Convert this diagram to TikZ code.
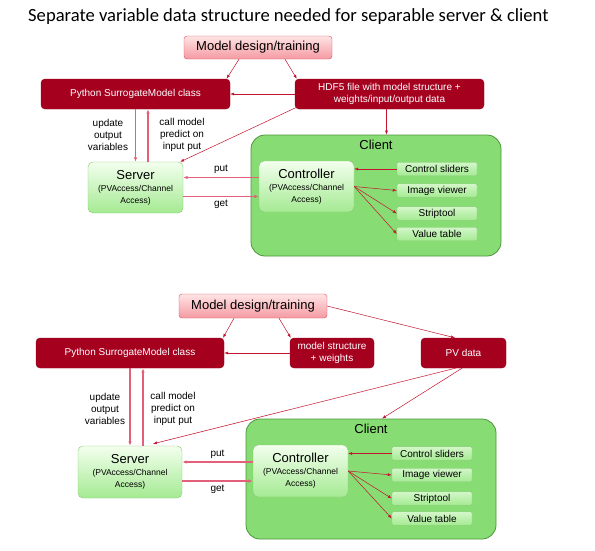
\documentclass[tikz,border=0pt]{standalone}
\usepackage{fontspec}
\setmainfont{Liberation Sans}
\newfontfamily\titlefont{Carlito}
\usepackage{tikz}
\usetikzlibrary{arrows.meta,positioning}

\definecolor{boxred}{HTML}{A6001F}
\definecolor{boxredline}{HTML}{8C0019}
\definecolor{pinktop}{HTML}{FFE4E4}
\definecolor{pinkbot}{HTML}{F49AA2}
\definecolor{pinkline}{HTML}{D64E5E}
\definecolor{clientfill}{HTML}{88DC74}
\definecolor{clientline}{HTML}{4C963C}
\definecolor{lgtop}{HTML}{F3FFEE}
\definecolor{lgbot}{HTML}{A4EA92}
\definecolor{lgline}{HTML}{84C874}
\definecolor{arrred}{HTML}{C4122F}
\definecolor{linkred}{HTML}{E2607A}

\newcommand{\bigline}[1]{{\fontsize{13}{15}\selectfont #1}}
\newcommand{\subline}[1]{{\fontsize{8.5}{9.5}\selectfont #1}}

\begin{document}
\begin{tikzpicture}[
    x=1pt, y=-1pt,
    every node/.style={inner sep=1pt},
    redbox/.style={draw=boxredline, fill=boxred, rounded corners=4pt, text=white, align=center, font=\fontsize{10}{12}\selectfont, inner sep=0pt},
    mdbox/.style={draw=pinkline, top color=pinktop, bottom color=pinkbot, rounded corners=3pt, align=center, font=\fontsize{13}{15}\selectfont, minimum width=148pt, minimum height=23pt, inner sep=0pt},
    clbox/.style={draw=clientline, fill=clientfill, rounded corners=14pt, line width=0.8pt, minimum width=250pt, minimum height=121pt, inner sep=0pt},
    gbox/.style={draw=lgline, top color=lgtop, bottom color=lgbot, rounded corners=5pt, align=center, minimum width=95pt, minimum height=51pt, inner sep=0pt},
    tool/.style={draw=lgline, top color=lgtop!60!lgbot, bottom color=lgbot, rounded corners=1pt, font=\fontsize{10}{12}\selectfont, minimum width=80pt, minimum height=13.5pt, inner sep=0pt},
    note/.style={align=center, font=\fontsize{10}{12}\selectfont},
    arr/.style={-{Latex[length=4pt,width=3pt]}, line width=0.5pt, draw=arrred},
    link/.style={-{Latex[length=4.5pt,width=3.5pt]}, line width=1.1pt, draw=linkred}
  ]
    \useasboundingbox (0,0) rectangle (595,550);

    % top diagram
    \node[anchor=west, font=\titlefont\fontsize{18.6}{22}\selectfont] (title) at (27,17) {Separate variable data structure needed for separable server \& client};
    \node[mdbox] (md1) at (258,47.5) {Model design/training};
    \node[redbox, minimum width=189pt, minimum height=30pt] (py1) at (135.5,94) {Python SurrogateModel class};
    \node[redbox, minimum width=189pt, minimum height=30pt] (hdf1) at (389.5,94) {HDF5 file with model structure +\\weights/input/output data};
    \node[gbox] (srv1) at (135.5,187.5) {\bigline{Server}\\\subline{(PVAccess/Channel}\\\subline{Access)}};
    \node[clbox] (cl1) at (376,195.5) {};
    \node[below=4pt of cl1.north, font=\fontsize{13}{15}\selectfont] (cl1t) {Client};
    \node[gbox] (ctl1) at (306.5,186.5) {\bigline{Controller}\\\subline{(PVAccess/Channel}\\\subline{Access)}};
    \node[tool] (cs1) at (437,169) {Control sliders};
    \node[tool] (iv1) at (437,190.5) {Image viewer};
    \node[tool] (st1) at (437,213.5) {Striptool};
    \node[tool] (vt1) at (437,234) {Value table};
    \node[note] (up1) at (108,135) {update\\output\\variables};
    \node[note] (call1) at (182,135) {call model\\predict on\\input put};

    \draw[arr] ([xshift=-19pt]md1.south) -- ([xshift=91pt]py1.north);
    \draw[arr] ([xshift=27pt]md1.south) -- ([xshift=2pt]hdf1.north west);
    \draw[arr] (hdf1.west) -- (py1.east);
    \draw[arr] ([xshift=-3pt]hdf1.south) -- ([xshift=-3pt]hdf1.south |- cl1.north);
    \draw[arr] ([xshift=2pt,yshift=2pt]hdf1.south west) -- ([xshift=-3pt]srv1.north east);
    \draw[link] (py1.south) -- (srv1.north);
    \draw[link] ([xshift=12.5pt]srv1.north) -- ([xshift=12.5pt]srv1.north |- py1.south);
    \draw[link] ([yshift=9pt]ctl1.west) -- ([yshift=9pt]ctl1.west -| srv1.east) node[midway, above=2pt, font=\fontsize{10}{12}\selectfont] {put};
    \draw[link] ([yshift=-9pt]srv1.east) -- ([yshift=-9pt]srv1.east -| ctl1.west) node[midway, below=2pt, font=\fontsize{10}{12}\selectfont] {get};
    \draw[arr] (cs1.west) -- (cs1.west -| ctl1.east);
    \draw[arr] (ctl1.east) -- (iv1.west);
    \draw[arr] (ctl1.east) -- (st1.west);
    \draw[arr] (ctl1.east) -- (vt1.west);

    % bottom diagram
    \node[mdbox, minimum height=24pt] (md2) at (253,306) {Model design/training};
    \node[redbox, minimum width=188pt, minimum height=30pt] (py2) at (130,353) {Python SurrogateModel class};
    \node[redbox, minimum width=84pt, minimum height=30pt] (ms2) at (332,353) {model structure\\+ weights};
    \node[redbox, minimum width=85pt, minimum height=30pt] (pv2) at (463.5,353) {PV data};
    \node[gbox, minimum width=104pt, minimum height=52pt] (srv2) at (130,472) {\bigline{Server}\\\subline{(PVAccess/Channel}\\\subline{Access)}};
    \node[clbox, minimum height=120pt] (cl2) at (371,479) {};
    \node[below=4pt of cl2.north, font=\fontsize{13}{15}\selectfont] (cl2t) {Client};
    \node[gbox, minimum height=52pt] (ctl2) at (300.5,471) {\bigline{Controller}\\\subline{(PVAccess/Channel}\\\subline{Access)}};
    \node[tool] (cs2) at (432,453.5) {Control sliders};
    \node[tool] (iv2) at (432,475) {Image viewer};
    \node[tool] (st2) at (432,498.5) {Striptool};
    \node[tool] (vt2) at (432,518.5) {Value table};
    \node[note] (up2) at (105,409) {update\\output\\variables};
    \node[note] (call2) at (173,409) {call model\\predict on\\input put};

    \draw[arr] ([xshift=-19pt]md2.south) -- ([xshift=93pt]py2.north);
    \draw[arr] ([xshift=26pt]md2.south) -- ([xshift=1pt]ms2.north west);
    \draw[arr] (md2.east) -- ([xshift=-8.5pt]pv2.north);
    \draw[arr] (ms2.west) -- (py2.east);
    \draw[arr] ([xshift=-1.5pt]pv2.south) -- ([xshift=11pt]cl2.north);
    \draw[arr] ([xshift=-8pt]pv2.south) -- ([xshift=23pt,yshift=2pt]srv2.north);
    \draw[link] (py2.south) -- (srv2.north);
    \draw[link] ([xshift=13pt]srv2.north) -- ([xshift=13pt]srv2.north |- py2.south);
    \draw[link] ([yshift=9pt]ctl2.west) -- ([yshift=9pt]ctl2.west -| srv2.east) node[midway, above=2pt, font=\fontsize{10}{12}\selectfont] {put};
    \draw[link] ([yshift=-9pt]srv2.east) -- ([yshift=-9pt]srv2.east -| ctl2.west) node[midway, below=2pt, font=\fontsize{10}{12}\selectfont] {get};
    \draw[arr] (cs2.west) -- (cs2.west -| ctl2.east);
    \draw[arr] (ctl2.east) -- (iv2.west);
    \draw[arr] (ctl2.east) -- (st2.west);
    \draw[arr] (ctl2.east) -- (vt2.west);
  \end{tikzpicture}
\end{document}
